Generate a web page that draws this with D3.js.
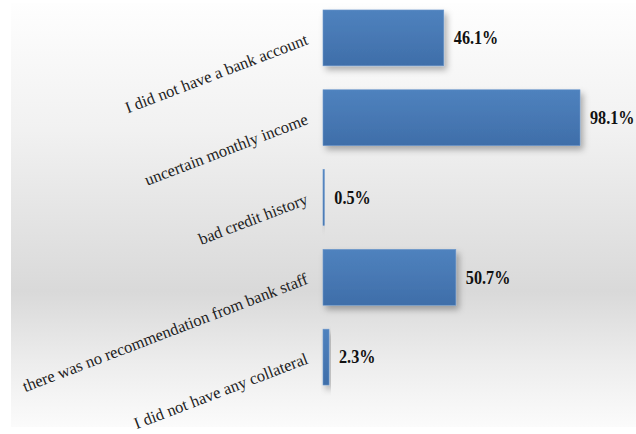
<!DOCTYPE html>
<html>
<head>
<meta charset="utf-8">
<script src="https://cdn.jsdelivr.net/npm/d3@7/dist/d3.min.js"></script>
<style>
  html, body { margin: 0; padding: 0; background: #ffffff; }
  svg { display: block; }
  text { font-family: "Times New Roman", Times, "Liberation Serif", serif; }
</style>
</head>
<body>
<script>
// Reasons for not applying for a bank loan (% of respondents)
const categories = [
  "I did not have a bank account",
  "uncertain monthly income",
  "bad credit history",
  "there was no recommendation from bank staff",
  "I did not have any collateral"
];
const values = [46.1, 98.1, 0.5, 50.7, 2.3];
const valueLabels = ["46.1%", "98.1%", "0.5%", "50.7%", "2.3%"];

const W = 636, H = 434;
const svg = d3.select("body").append("svg").attr("width", W).attr("height", H);
const defs = svg.append("defs");

// plot-area background: soft vertical grey gradient
const bg = defs.append("linearGradient").attr("id", "bgGrad")
  .attr("x1", 0).attr("y1", 0).attr("x2", 0).attr("y2", 1);
bg.append("stop").attr("offset", "0%").attr("stop-color", "#fefefe");
bg.append("stop").attr("offset", "30%").attr("stop-color", "#f1f1f1");
bg.append("stop").attr("offset", "68%").attr("stop-color", "#d9d9d9");
bg.append("stop").attr("offset", "85%").attr("stop-color", "#ededed");
bg.append("stop").attr("offset", "100%").attr("stop-color", "#fbfbfb");

// bar fill
const bf = defs.append("linearGradient").attr("id", "barGrad")
  .attr("x1", 0).attr("y1", 0).attr("x2", 0).attr("y2", 1);
bf.append("stop").attr("offset", "0%").attr("stop-color", "#4f82be");
bf.append("stop").attr("offset", "100%").attr("stop-color", "#3f6ea9");

// soft shadow under bars
const sh = defs.append("filter").attr("id", "shadow")
  .attr("x", "-20%").attr("y", "-20%").attr("width", "150%").attr("height", "160%");
sh.append("feDropShadow").attr("dx", 3).attr("dy", 4).attr("stdDeviation", 3)
  .attr("flood-color", "#000").attr("flood-opacity", 0.3);

svg.append("rect").attr("x", 11).attr("y", 3).attr("width", W - 11).attr("height", 424)
  .attr("fill", "url(#bgGrad)");

const x = d3.scaleLinear().domain([0, 100]).range([323, 585]);
const y = d3.scaleBand().domain(categories).range([-2, 397]).paddingInner(0.3).paddingOuter(0.15);

const data = categories.map((c, i) => ({ c, v: values[i], label: valueLabels[i] }));

svg.append("g").selectAll("rect").data(data).join("rect")
  .attr("x", x(0))
  .attr("y", d => y(d.c))
  .attr("width", d => Math.max(1, x(d.v) - x(0)))
  .attr("height", y.bandwidth())
  .attr("fill", "url(#barGrad)")
  .attr("stroke", "#6b97cc")
  .attr("stroke-width", 0.6)
  .attr("filter", "url(#shadow)");

// value labels (slightly condensed bold serif)
svg.append("g").selectAll("text").data(data).join("text")
  .attr("transform", d => `translate(${x(d.v) + 10}, ${y(d.c) + y.bandwidth() / 2}) scale(0.9, 1)`)
  .attr("dy", "0.35em")
  .attr("font-weight", "bold")
  .attr("font-size", 18)
  .attr("fill", "#111")
  .text(d => d.label);

// rotated category labels
svg.append("g").selectAll("text").data(data).join("text")
  .attr("transform", d => `translate(309, ${y(d.c) + y.bandwidth() / 2 + 6}) rotate(-21)`)
  .attr("text-anchor", "end")
  .attr("font-size", 16.5)
  .attr("fill", "#222")
  .text(d => d.c);
</script>
</body>
</html>
